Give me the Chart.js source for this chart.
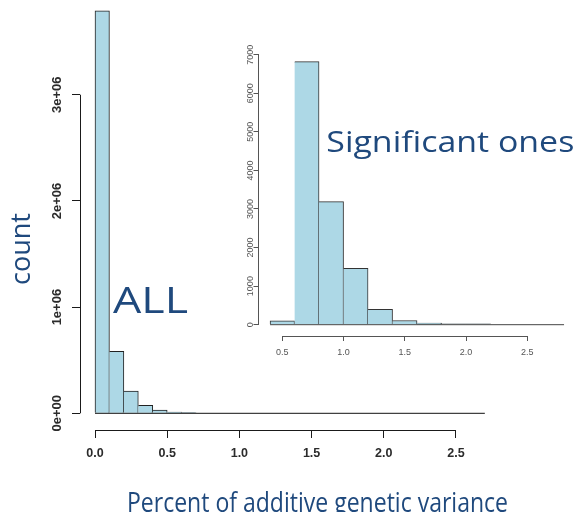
<!DOCTYPE html>
<html>
<head>
<meta charset="utf-8">
<script src="https://cdn.jsdelivr.net/npm/chart.js@4.4.0/dist/chart.umd.min.js"></script>
<style>
  html, body { margin: 0; padding: 0; background: #fff; }
  #wrap { position: relative; width: 578px; height: 512px; overflow: hidden; }
  #wrap canvas { position: absolute; left: 0; top: 0; }
</style>
</head>
<body>
<div id="wrap">
  <canvas id="main" width="578" height="512"></canvas>
  <canvas id="inset" width="578" height="512"></canvas>
</div>
<script>
// ---------- data ----------
// Main histogram: all effects, bins of width 0.1
const allBinCenters = [0.05, 0.15, 0.25, 0.35, 0.45, 0.55, 0.65];
const allCounts     = [3790000, 584000, 210000, 75000, 31000, 12000, 7000];
const allRange      = [0, 2.7];           // extent of the histogram base line
const allXTicks     = [0, 0.5, 1, 1.5, 2, 2.5];
const allYTicks     = [0, 1000000, 2000000, 3000000];

// Inset histogram: significant ones, bins of width 0.2
const sigBinCenters = [0.5, 0.7, 0.9, 1.1, 1.3, 1.5, 1.7, 1.9, 2.1];
const sigCounts     = [100, 6820, 3190, 1460, 400, 110, 45, 20, 20];
const sigRange      = [0.4, 2.8];
const sigXTicks     = [0.5, 1, 1.5, 2, 2.5];
const sigYTicks     = [0, 1000, 2000, 3000, 4000, 5000, 6000, 7000];

const xTitle   = 'Percent of additive genetic variance';
const yTitle   = 'count';
const allLabel = 'ALL';
const sigLabel = 'Significant ones';

// ---------- helpers ----------
const BLUE = '#1F497D';
const TEXT_FONT = '"Open Sans", "Liberation Sans", sans-serif';

function sci(v) {
  if (v === 0) return '0e+00';
  const e = Math.floor(Math.log10(Math.abs(v)));
  const m = v / Math.pow(10, e);
  return m + 'e+' + String(e).padStart(2, '0');
}

function fittedText(ctx, text, x, baseline, size, targetW, rotate) {
  ctx.save();
  ctx.font = size + 'px ' + TEXT_FONT;
  ctx.fillStyle = BLUE;
  ctx.textBaseline = 'alphabetic';
  ctx.textAlign = 'left';
  const w = ctx.measureText(text).width;
  ctx.translate(x, baseline);
  if (rotate) ctx.rotate(-Math.PI / 2);
  ctx.scale(targetW / w, 1);
  ctx.fillText(text, 0, 0);
  ctx.restore();
}

const align = p => Math.round(p - 0.5) + 0.5;

// R-style detached axis lines spanning only the tick range
const rAxes = {
  id: 'rAxes',
  afterDraw(chart, args, opts) {
    const { ctx, scales: { x, y } } = chart;
    const xt = opts.xTicks, yt = opts.yTicks;
    ctx.save();
    ctx.strokeStyle = opts.color;
    ctx.lineWidth = 1;
    ctx.beginPath();
    const ay = align(x.top);
    ctx.moveTo(x.getPixelForValue(xt[0]), ay);
    ctx.lineTo(x.getPixelForValue(xt[xt.length - 1]), ay);
    const ax = align(y.right);
    ctx.moveTo(ax, y.getPixelForValue(yt[0]));
    ctx.lineTo(ax, y.getPixelForValue(yt[yt.length - 1]));
    ctx.stroke();
    ctx.restore();
  }
};

const mainTexts = {
  id: 'mainTexts',
  afterDraw(chart) {
    const ctx = chart.ctx;
    fittedText(ctx, yTitle, 30, 285, 28, 72, true);
    fittedText(ctx, xTitle, 127, 512, 28, 381, false);
    fittedText(ctx, allLabel, 113, 313.3, 36.4, 75, false);
  }
};

const insetTexts = {
  id: 'insetTexts',
  afterDraw(chart) {
    fittedText(chart.ctx, sigLabel, 326.3, 152.3, 30, 248, false);
  }
};

function barBorder(ctx) {
  return { top: 1, right: 1, bottom: 0, left: ctx.dataIndex === 0 ? 1 : 0 };
}

function histConfig(p) {
  return {
    type: 'bar',
    data: {
      datasets: [
        {
          type: 'bar',
          data: p.centers.map((x, i) => ({ x: x, y: p.counts[i] })),
          backgroundColor: '#ADD8E6',
          borderColor: p.barBorder,
          borderWidth: barBorder,
          borderSkipped: false,
          barPercentage: 1,
          categoryPercentage: 1,
          order: 1
        },
        {
          type: 'line',
          data: p.range.map(x => ({ x: x, y: 0 })),
          borderColor: p.lineColor,
          borderWidth: 1,
          pointRadius: 0,
          tension: 0,
          order: -1
        }
      ]
    },
    options: {
      responsive: false,
      animation: false,
      devicePixelRatio: 1,
      events: [],
      layout: { padding: p.padding },
      plugins: { legend: { display: false }, tooltip: { enabled: false }, rAxes: { color: p.axisColor, xTicks: p.xTicks, yTicks: p.yTicks } },
      scales: {
        x: {
          type: 'linear',
          offset: false,
          min: p.xMin, max: p.xMax,
          afterFit: s => { s.height = p.xHeight; },
          afterBuildTicks: s => { s.ticks = p.xTicks.map(v => ({ value: v })); },
          grid: { offset: false, drawOnChartArea: false, tickLength: p.tick, color: p.axisColor },
          border: { display: false },
          ticks: {
            autoSkip: false, maxRotation: 0, minRotation: 0,
            padding: p.xPad,
            color: p.tickColor,
            font: { family: '"Liberation Sans", Arial, sans-serif', size: p.xFont, weight: p.fontWeight },
            callback: v => Number(v).toFixed(1)
          }
        },
        y: {
          type: 'linear',
          offset: false,
          min: p.yMin, max: p.yMax,
          afterFit: s => { s.width = p.yWidth; },
          afterBuildTicks: s => { s.ticks = p.yTicks.map(v => ({ value: v })); },
          grid: { offset: false, drawOnChartArea: false, tickLength: p.tick, color: p.axisColor },
          border: { display: false },
          ticks: {
            autoSkip: false, minRotation: 90, maxRotation: 90,
            crossAlign: 'center',
            padding: p.yPad,
            color: p.tickColor,
            font: { family: '"Liberation Sans", Arial, sans-serif', size: p.yFont, weight: p.fontWeight },
            callback: p.yFormat
          }
        }
      }
    }
  };
}

// ---------- main chart ----------
const mainCfg = histConfig({
  centers: allBinCenters, counts: allCounts, range: allRange,
  xTicks: allXTicks, yTicks: allYTicks,
  xMin: -0.1039, xMax: 2.805, yMin: -157250, yMax: 3845000,
  padding: { left: 0, top: 5, right: 78, bottom: 0 },
  xHeight: 82, yWidth: 80, tick: 8, xPad: 8, yPad: -4,
  xFont: 12.5, yFont: 13, fontWeight: 'bold',
  tickColor: '#2b2b2b', axisColor: '#1a1a1a', barBorder: '#222', lineColor: '#111',
  yFormat: v => sci(v)
});
mainCfg.plugins = [rAxes, mainTexts];
new Chart(document.getElementById('main'), mainCfg);

// ---------- inset chart ----------
const insetCfg = histConfig({
  centers: sigBinCenters, counts: sigCounts, range: sigRange,
  xTicks: sigXTicks, yTicks: sigYTicks,
  xMin: 0.3057, xMax: 2.8486, yMin: -293, yMax: 7381,
  padding: { left: 228.5, top: 40, right: 8, bottom: 146 },
  xHeight: 30, yWidth: 30, tick: 5, xPad: 6, yPad: -7,
  xFont: 9, yFont: 9, fontWeight: 'normal',
  tickColor: '#555', axisColor: '#555', barBorder: '#333', lineColor: '#444',
  yFormat: v => String(v)
});
insetCfg.plugins = [rAxes, insetTexts];
new Chart(document.getElementById('inset'), insetCfg);
</script>
</body>
</html>
